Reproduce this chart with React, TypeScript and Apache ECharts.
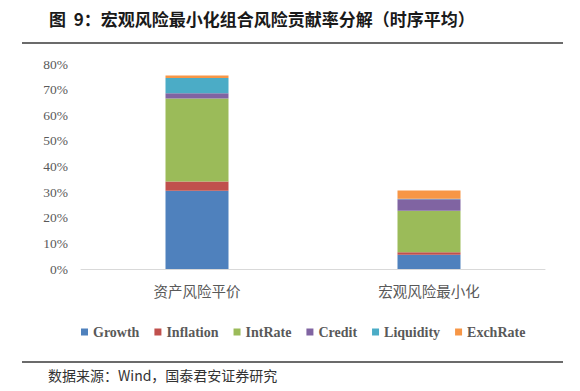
import React, { useEffect, useRef } from "react";
import * as echarts from "echarts";

const categories = ["资产风险平价", "宏观风险最小化"];
const seriesNames = ["Growth", "Inflation", "IntRate", "Credit", "Liquidity", "ExchRate"];
const growth = [30.5, 5.6];
const inflation = [3.6, 0.9];
const intRate = [32.4, 16.2];
const credit = [2.1, 4.5];
const liquidity = [5.9, 0.2];
const exchRate = [1.0, 3.2];
const colors = ["#4F81BD", "#C0504D", "#9BBB59", "#8064A2", "#4BACC6", "#F79646"];
const yTicks = { min: 0, max: 80, interval: 10 };

const titleText = "图  9：宏观风险最小化组合风险贡献率分解（时序平均）";
const sourceText = "数据来源：Wind，国泰君安证券研究";

const serif = "'Times New Roman', 'Liberation Serif', serif";

export default function App() {
  const ref = useRef<HTMLDivElement>(null);
  useEffect(() => {
    if (!ref.current) return;
    const chart = echarts.init(ref.current, undefined, { renderer: "svg" });
    const dataSets = [growth, inflation, intRate, credit, liquidity, exchRate];
    chart.setOption({
      animation: false,
      backgroundColor: "#ffffff",
      grid: { left: 81, right: 35, top: 64, bottom: 122 },
      xAxis: {
        type: "category",
        data: categories,
        axisLine: { lineStyle: { color: "#d9d9d9", width: 1 } },
        axisTick: { show: false },
        axisLabel: {
          color: "#595959",
          fontSize: 14.5,
          fontFamily: "Noto Sans CJK SC",
          margin: 14,
        },
      },
      yAxis: {
        type: "value",
        min: yTicks.min,
        max: yTicks.max,
        interval: yTicks.interval,
        splitLine: { show: false },
        axisLine: { show: false },
        axisTick: { show: false },
        axisLabel: {
          formatter: "{value}%",
          color: "#595959",
          fontSize: 13.5,
          fontFamily: serif,
          margin: 13,
        },
      },
      legend: {
        data: seriesNames,
        top: 320,
        left: 76,
        itemWidth: 7,
        itemHeight: 7,
        itemGap: 15,
        icon: "rect",
        textStyle: {
          fontFamily: serif,
          fontWeight: "bold",
          fontSize: 14,
          color: "#595959",
        },
      },
      series: seriesNames.map((name, i) => ({
        name,
        type: "bar",
        stack: "total",
        barWidth: 63,
        data: dataSets[i],
        itemStyle: { color: colors[i] },
      })),
      graphic: [
        {
          type: "text",
          left: 49,
          top: 10,
          style: {
            text: titleText,
            fontSize: 17,
            fontWeight: "bold",
            fontFamily: "Noto Sans CJK SC",
            fill: "#1a1a1a",
          },
        },
        {
          type: "line",
          shape: { x1: 22, y1: 43, x2: 563, y2: 43 },
          style: { stroke: "#3a3a3a", lineWidth: 1.5 },
        },
        {
          type: "line",
          shape: { x1: 22, y1: 362, x2: 563, y2: 362 },
          style: { stroke: "#3a3a3a", lineWidth: 1.5 },
        },
        {
          type: "text",
          left: 48,
          top: 368,
          style: {
            text: sourceText,
            fontSize: 14,
            fontFamily: "Noto Sans CJK SC",
            fill: "#333333",
          },
        },
      ],
    });
    return () => chart.dispose();
  }, []);
  return (
    <div
      ref={ref}
      style={{ position: "absolute", left: 0, top: 0, width: 580, height: 391 }}
    />
  );
}
